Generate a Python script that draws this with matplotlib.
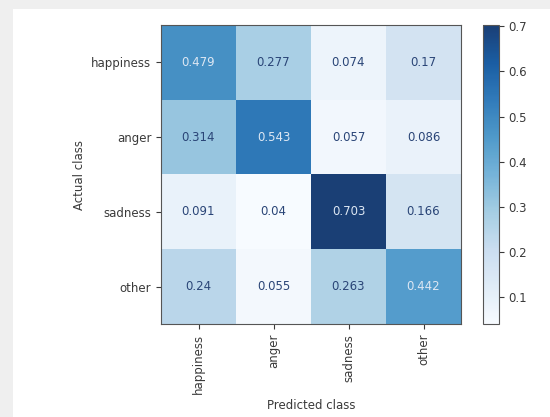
import numpy as np
import matplotlib
matplotlib.use("Agg")
import matplotlib.pyplot as plt
from matplotlib.patches import Rectangle

# class names and normalized confusion matrix (rows = actual, cols = predicted)
classes = ["happiness", "anger", "sadness", "other"]
row_happiness = [0.479, 0.277, 0.074, 0.17]
row_anger = [0.314, 0.543, 0.057, 0.086]
row_sadness = [0.091, 0.04, 0.703, 0.166]
row_other = [0.24, 0.055, 0.263, 0.442]
cbar_ticks = [0.1, 0.2, 0.3, 0.4, 0.5, 0.6, 0.7]

cm = np.array([row_happiness, row_anger, row_sadness, row_other])

text_col = "#3a3a3a"
plt.rcParams["font.size"] = 8.5
plt.rcParams["text.color"] = text_col
plt.rcParams["xtick.color"] = text_col
plt.rcParams["ytick.color"] = text_col
plt.rcParams["axes.labelcolor"] = text_col

fig = plt.figure(figsize=(5.5, 4.17), dpi=100, facecolor="#efefef")
# white notebook output area
fig.patches.append(Rectangle((13 / 550, 0), 1, 1 - 9 / 417, transform=fig.transFigure,
                             facecolor="white", edgecolor="none", zorder=-10))

ax = fig.add_axes([161 / 550, 1 - 324 / 417, 300 / 550, 299 / 417])
cax = fig.add_axes([483 / 550, 1 - 324 / 417, 16 / 550, 299 / 417])

cmap = plt.get_cmap("Blues")
im = ax.imshow(cm, cmap=cmap, interpolation="nearest", aspect="auto", alpha=0.93)

# cell labels, colored like sklearn's ConfusionMatrixDisplay
thresh = (cm.max() + cm.min()) / 2.0
for i in range(cm.shape[0]):
    for j in range(cm.shape[1]):
        color = "#dde7f3" if cm[i, j] > thresh else "#2a4577"
        ax.text(j, i, format(cm[i, j], ".3g"), ha="center", va="center",
                color=color, fontsize=8.5)

ax.set_xticks(range(len(classes)))
ax.set_yticks(range(len(classes)))
ax.set_xticklabels(classes, rotation=90)
ax.set_yticklabels(classes)
ax.set_xlabel("Predicted class")
ax.set_ylabel("Actual class")
for s in ax.spines.values():
    s.set_edgecolor("#555555")

cb = fig.colorbar(im, cax=cax, ticks=cbar_ticks)
cb.outline.set_edgecolor("#555555")

fig.savefig("out.png", dpi=100, facecolor=fig.get_facecolor())
